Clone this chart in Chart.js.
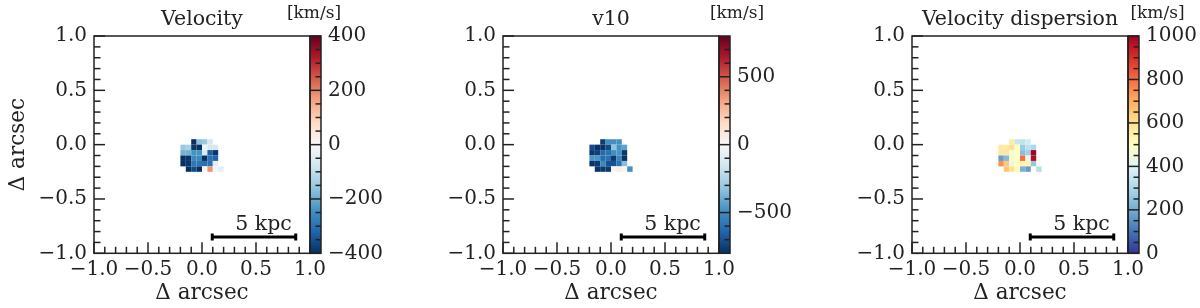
<!DOCTYPE html>
<html>
<head>
<meta charset="utf-8">
<title>Velocity maps</title>
<script src="https://cdn.jsdelivr.net/npm/chart.js@4"></script>
<style>
  html, body { margin: 0; padding: 0; background: #fff; }
  #painel { position: relative; width: 1200px; height: 308px; overflow: hidden; }
  canvas { position: absolute; top: 0; }
</style>
</head>
<body>
<div id="painel">
  <canvas id="mapa1" width="409" height="308" style="left:0"></canvas>
  <canvas id="mapa2" width="409" height="308" style="left:409px"></canvas>
  <canvas id="mapa3" width="382" height="308" style="left:818px"></canvas>
</div>
<script>
// Values, rows top to bottom, null = no spaxel
const velocityRows = [
  [null, null, -400, -165, -150, -70, null, null],
  [-150, -130, -390, -400, -20, -70, -70, null],
  [-190, -190, -240, -240, -60, -330, -390, null],
  [-400, -390, -260, -260, -400, -300, -320, null],
  [-400, -390, -290, -290, -300, -300, -40, null],
  [null, -400, -360, -400, 5, 180, 5, -40]
];
const v10Rows = [
  [null, null, -760, -490, -490, -490, null, null],
  [-720, -790, -790, -720, -325, -480, -430, null],
  [-780, -750, -630, -600, -490, -480, -770, null],
  [-470, -470, -620, -600, -770, -530, -790, null],
  [-790, -770, -520, -700, -700, -600, -340, null],
  [null, -790, -770, -770, 20, 60, 20, -490]
];
const dispersionRows = [
  [null, null, 560, 350, 340, 370, null, null],
  [570, 560, 600, 500, 270, 330, 300, null],
  [570, 570, 480, 490, 240, 280, 1000, null],
  [170, 230, 470, 500, 800, 430, 980, null],
  [750, 650, 440, 500, 530, 530, 260, null],
  [null, 650, 600, 520, 210, 170, null, 320]
];

// Spaxel grid, in arcsec
const gridLeft = -0.2;
const gridTop = 0.05;
const cellSize = 0.05;

const axisTicks = [-1, -0.5, 0, 0.5, 1];
const axisMinorTicks = [-0.9, -0.8, -0.7, -0.6, -0.4, -0.3, -0.2, -0.1, 0.1, 0.2, 0.3, 0.4, 0.6, 0.7, 0.8, 0.9];

const velocityBarTicks = [-400, -200, 0, 200, 400];
const velocityBarMinor = [-350, -300, -250, -150, -100, -50, 50, 100, 150, 250, 300, 350];
const v10BarTicks = [-500, 0, 500];
const v10BarMinor = [-700, -600, -400, -300, -200, -100, 100, 200, 300, 400, 600, 700];
const dispersionBarTicks = [0, 200, 400, 600, 800, 1000];
const dispersionBarMinor = [50, 100, 150, 250, 300, 350, 450, 500, 550, 650, 700, 750, 850, 900, 950];

const scaleBarX = [0.095, 0.868];
const scaleBarY = -0.85;
const scaleBarLabel = '5 kpc';
const scaleBarLabelX = 0.57;
const barUnit = '[km/s]';

const rdBuR = ['#053061', '#2166ac', '#4393c3', '#92c5de', '#d1e5f0', '#f7f7f7', '#fddbc7', '#f4a582', '#d6604d', '#b2182b', '#67001f'];
const rdYlBuR = ['#313695', '#4575b4', '#74add1', '#abd9e9', '#e0f3f8', '#ffffbf', '#fee090', '#fdae61', '#f46d43', '#d73027', '#a50026'];

const fontFamily = '"DejaVu Serif"';
const inkColor = '#222222';

function hexToRgb(hex) {
  return [1, 3, 5].map(i => parseInt(hex.slice(i, i + 2), 16));
}

// Linear lookup in the colour map, t in 0..1
function colorAt(stops, t) {
  const pos = Math.min(Math.max(t, 0), 1) * (stops.length - 1);
  const i = Math.min(Math.floor(pos), stops.length - 2);
  const a = hexToRgb(stops[i]);
  const b = hexToRgb(stops[i + 1]);
  const f = pos - i;
  return `rgb(${a.map((c, k) => Math.round(c + (b[k] - c) * f)).join(',')})`;
}

function rowsToCells(rows) {
  const cells = [];
  rows.forEach((row, r) => row.forEach((v, c) => {
    if (v !== null) {
      cells.push({ x: gridLeft + c * cellSize, y: gridTop - r * cellSize, v });
    }
  }));
  return cells;
}

function fixTicks(values) {
  return scale => { scale.ticks = values.map(value => ({ value })); };
}

function minusSign(text) {
  return String(text).replace('-', '\u2212');
}

// Draws spaxels, colour bar, inward ticks and the frame through the chart scales
const mapaPlugin = {
  id: 'mapa',
  beforeDatasetsDraw(chart, args, opts) {
    const { ctx, chartArea, scales } = chart;
    const { x, y, bar } = scales;
    const cells = chart.data.datasets[0].data;

    // spaxels
    cells.forEach(cell => {
      const px0 = x.getPixelForValue(cell.x);
      const px1 = x.getPixelForValue(cell.x + cellSize);
      const py0 = y.getPixelForValue(cell.y);
      const py1 = y.getPixelForValue(cell.y - cellSize);
      ctx.fillStyle = colorAt(opts.stops, (cell.v - opts.min) / (opts.max - opts.min));
      ctx.fillRect(px0, py0, px1 - px0, py1 - py0);
    });

    // colour bar
    const barLeft = chartArea.right;
    const barRight = barLeft + opts.barWidth;
    const grad = ctx.createLinearGradient(0, chartArea.bottom, 0, chartArea.top);
    opts.stops.forEach((c, i) => grad.addColorStop(i / (opts.stops.length - 1), c));
    ctx.fillStyle = grad;
    ctx.fillRect(barLeft, chartArea.top, opts.barWidth, chartArea.height);

    ctx.strokeStyle = inkColor;
    ctx.lineWidth = 1.5;
    const line = (x0, y0, x1, y1) => {
      ctx.beginPath();
      ctx.moveTo(x0, y0);
      ctx.lineTo(x1, y1);
      ctx.stroke();
    };
    opts.barTicks.forEach(v => {
      const p = bar.getPixelForValue(v);
      line(barLeft, p, barRight, p);
    });
    opts.barMinor.forEach(v => {
      const p = bar.getPixelForValue(v);
      line(barRight - 5.5, p, barRight, p);
    });

    // inward ticks, left and bottom only
    axisTicks.forEach(v => {
      line(x.getPixelForValue(v), chartArea.bottom, x.getPixelForValue(v), chartArea.bottom - 11);
      line(chartArea.left, y.getPixelForValue(v), chartArea.left + 11, y.getPixelForValue(v));
    });
    axisMinorTicks.forEach(v => {
      line(x.getPixelForValue(v), chartArea.bottom, x.getPixelForValue(v), chartArea.bottom - 6.5);
      line(chartArea.left, y.getPixelForValue(v), chartArea.left + 6.5, y.getPixelForValue(v));
    });

    // frame
    ctx.strokeRect(chartArea.left, chartArea.top, chartArea.width, chartArea.height);
    ctx.strokeRect(barLeft, chartArea.top, opts.barWidth, chartArea.height);
  },
  afterDatasetsDraw(chart, args, opts) {
    const { ctx, chartArea, scales } = chart;
    ctx.save();
    ctx.fillStyle = inkColor;
    ctx.textBaseline = 'alphabetic';
    ctx.textAlign = 'center';
    ctx.font = `20.5px ${fontFamily}`;
    ctx.fillText(scaleBarLabel, scales.x.getPixelForValue(scaleBarLabelX), scales.y.getPixelForValue(scaleBarY) - 7.5);
    ctx.font = `17px ${fontFamily}`;
    ctx.fillText(barUnit, chartArea.right + opts.unitOffset, 18);
    ctx.restore();
  }
};

function criarMapa(canvasId, { title, rows, stops, min, max, barTicks, barMinor, showYTitle, unitOffset }) {
  const canvas = document.getElementById(canvasId);
  const ctx = canvas.getContext('2d');
  return new Chart(ctx, {
    type: 'scatter',
    data: {
      datasets: [
        { data: rowsToCells(rows), pointRadius: 0, showLine: false },
        {
          data: scaleBarX.map(x => ({ x, y: scaleBarY })),
          showLine: true,
          borderColor: '#000',
          borderWidth: 3,
          pointStyle: 'line',
          rotation: 90,
          pointRadius: 3.5,
          pointBorderColor: '#000',
          pointBorderWidth: 3
        }
      ]
    },
    plugins: [mapaPlugin],
    options: {
      responsive: false,
      animation: false,
      layout: { padding: 0 },
      plugins: {
        legend: { display: false },
        tooltip: { enabled: false },
        title: {
          display: true,
          text: title,
          fullSize: false,
          color: inkColor,
          font: { family: fontFamily, size: 20.5, weight: 'normal' },
          padding: { top: 7, bottom: 4.4 }
        },
        mapa: { stops, min, max, barTicks, barMinor, barWidth: 11, unitOffset }
      },
      scales: {
        x: {
          type: 'linear',
          min: -1,
          max: 1,
          afterBuildTicks: fixTicks(axisTicks),
          afterFit: s => { s.height = 54.7; },
          grid: { display: false, drawTicks: false },
          border: { display: false },
          ticks: {
            autoSkip: false,
            maxRotation: 0,
            padding: 4,
            color: inkColor,
            font: { family: fontFamily, size: 20 },
            callback: v => minusSign(v.toFixed(1))
          },
          title: {
            display: true,
            text: '\u0394 arcsec',
            color: inkColor,
            font: { family: fontFamily, size: 21.5, weight: 'normal' },
            padding: { top: 0, bottom: 2 }
          }
        },
        y: {
          type: 'linear',
          position: 'left',
          min: -1,
          max: 1,
          afterBuildTicks: fixTicks(axisTicks),
          afterFit: s => { s.width = 94; },
          grid: { display: false, drawTicks: false },
          border: { display: false },
          ticks: {
            autoSkip: false,
            padding: 7,
            color: inkColor,
            font: { family: fontFamily, size: 20 },
            callback: v => minusSign(v.toFixed(1))
          },
          title: {
            display: showYTitle,
            text: '\u0394 arcsec',
            color: inkColor,
            font: { family: fontFamily, size: 21.5, weight: 'normal' },
            padding: { top: 6, bottom: 0 }
          }
        },
        bar: {
          type: 'linear',
          position: 'right',
          min,
          max,
          afterBuildTicks: fixTicks(barTicks),
          // plot area always ends 310px into the canvas
          afterFit: s => { s.width = canvas.width - 310; },
          grid: { display: false, drawTicks: false, drawOnChartArea: false },
          border: { display: false },
          ticks: {
            autoSkip: false,
            padding: 18,
            color: inkColor,
            font: { family: fontFamily, size: 20 },
            callback: v => minusSign(v)
          }
        }
      }
    }
  });
}

criarMapa('mapa1', { title: 'Velocity', rows: velocityRows, stops: rdBuR, min: -400, max: 400, barTicks: velocityBarTicks, barMinor: velocityBarMinor, showYTitle: true, unitOffset: 4 });
criarMapa('mapa2', { title: 'v10', rows: v10Rows, stops: rdBuR, min: -800, max: 800, barTicks: v10BarTicks, barMinor: v10BarMinor, showYTitle: false, unitOffset: 18 });
criarMapa('mapa3', { title: 'Velocity dispersion', rows: dispersionRows, stops: rdYlBuR, min: 0, max: 1000, barTicks: dispersionBarTicks, barMinor: dispersionBarMinor, showYTitle: false, unitOffset: 29.5 });
</script>
</body>
</html>
